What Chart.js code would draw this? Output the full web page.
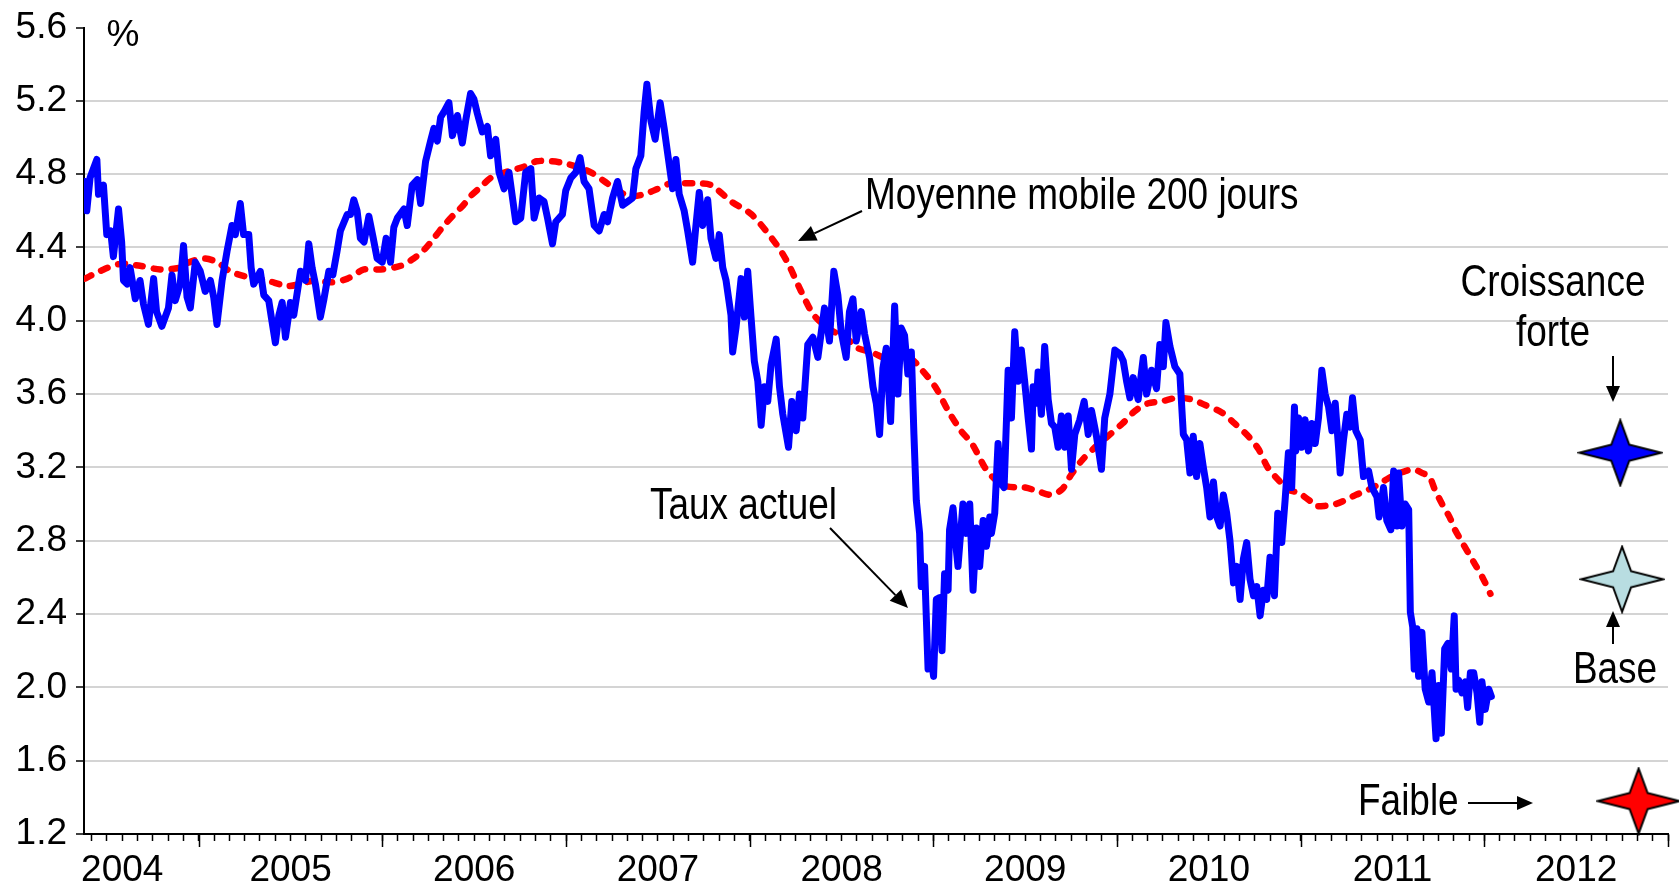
<!DOCTYPE html>
<html>
<head>
<meta charset="utf-8">
<script src="https://cdn.jsdelivr.net/npm/chart.js@4/dist/chart.umd.min.js"></script>
<style>
  html, body { margin: 0; padding: 0; background: #fff; overflow: hidden; }
  canvas { display: block; }
</style>
</head>
<body>
<canvas id="chart" width="1679" height="892"></canvas>
<script>
// Taux actuel (year fraction, %)
const tauxActuel = [
  [2004.381,4.76],[2004.39,4.60],[2004.408,4.78],[2004.445,4.88],[2004.454,4.69],[2004.481,4.74],[2004.499,4.47],[2004.52,4.49],
  [2004.535,4.35],[2004.563,4.61],[2004.58,4.43],[2004.59,4.22],[2004.61,4.20],[2004.626,4.29],[2004.654,4.12],[2004.68,4.22],
  [2004.699,4.09],[2004.726,3.98],[2004.754,4.23],[2004.77,4.05],[2004.799,3.97],[2004.835,4.07],[2004.854,4.25],[2004.872,4.11],
  [2004.899,4.20],[2004.917,4.41],[2004.936,4.13],[2004.954,4.07],[2004.981,4.32],[2005.008,4.27],[2005.035,4.16],[2005.063,4.22],
  [2005.081,4.13],[2005.099,3.98],[2005.127,4.22],[2005.154,4.38],[2005.181,4.52],[2005.199,4.47],[2005.226,4.64],[2005.244,4.47],
  [2005.272,4.47],[2005.285,4.29],[2005.299,4.20],[2005.335,4.27],[2005.354,4.14],[2005.381,4.11],[2005.395,4.02],[2005.417,3.88],
  [2005.436,4.03],[2005.454,4.10],[2005.472,3.91],[2005.499,4.10],[2005.517,4.03],[2005.554,4.27],[2005.581,4.22],[2005.599,4.42],
  [2005.617,4.29],[2005.635,4.20],[2005.662,4.02],[2005.68,4.11],[2005.708,4.27],[2005.73,4.25],[2005.753,4.38],[2005.771,4.49],
  [2005.808,4.58],[2005.826,4.58],[2005.844,4.66],[2005.862,4.60],[2005.88,4.45],[2005.90,4.43],[2005.926,4.57],[2005.95,4.45],
  [2005.971,4.34],[2005.999,4.32],[2006.02,4.45],[2006.044,4.32],[2006.062,4.51],[2006.081,4.56],[2006.117,4.61],[2006.135,4.52],
  [2006.162,4.74],[2006.19,4.77],[2006.208,4.64],[2006.235,4.87],[2006.262,4.98],[2006.28,5.05],[2006.299,4.98],[2006.317,5.11],
  [2006.335,5.14],[2006.362,5.19],[2006.381,5.01],[2006.408,5.12],[2006.435,4.97],[2006.453,5.09],[2006.48,5.24],[2006.498,5.21],
  [2006.517,5.13],[2006.544,5.03],[2006.571,5.06],[2006.589,4.90],[2006.617,4.99],[2006.635,4.81],[2006.662,4.72],[2006.689,4.81],
  [2006.726,4.54],[2006.753,4.56],[2006.78,4.81],[2006.808,4.83],[2006.826,4.56],[2006.853,4.67],[2006.88,4.65],[2006.899,4.56],
  [2006.926,4.42],[2006.944,4.54],[2006.98,4.58],[2006.998,4.71],[2007.026,4.78],[2007.053,4.81],[2007.076,4.89],[2007.098,4.76],
  [2007.125,4.72],[2007.153,4.52],[2007.18,4.49],[2007.207,4.58],[2007.226,4.54],[2007.253,4.67],[2007.28,4.76],[2007.308,4.63],
  [2007.335,4.65],[2007.362,4.67],[2007.38,4.83],[2007.407,4.90],[2007.425,5.14],[2007.44,5.29],[2007.462,5.09],[2007.485,4.99],
  [2007.512,5.19],[2007.534,5.05],[2007.552,4.92],[2007.58,4.72],[2007.598,4.88],[2007.616,4.69],[2007.643,4.60],[2007.662,4.49],
  [2007.689,4.32],[2007.707,4.52],[2007.725,4.70],[2007.744,4.52],[2007.771,4.66],[2007.789,4.45],[2007.816,4.34],[2007.834,4.47],
  [2007.853,4.29],[2007.871,4.22],[2007.898,4.03],[2007.907,3.83],[2007.925,3.96],[2007.953,4.23],[2007.971,4.02],[2007.989,4.27],
  [2008.007,4.02],[2008.025,3.78],[2008.044,3.67],[2008.062,3.43],[2008.08,3.64],[2008.098,3.56],[2008.116,3.76],[2008.144,3.90],
  [2008.162,3.64],[2008.18,3.49],[2008.211,3.31],[2008.229,3.56],[2008.253,3.40],[2008.271,3.60],[2008.289,3.47],[2008.316,3.87],
  [2008.344,3.91],[2008.371,3.80],[2008.407,4.07],[2008.434,3.89],[2008.458,4.27],[2008.48,4.14],[2008.498,3.94],[2008.525,3.80],
  [2008.543,4.05],[2008.562,4.12],[2008.58,3.89],[2008.607,4.05],[2008.625,3.93],[2008.652,3.80],[2008.671,3.64],[2008.689,3.55],
  [2008.707,3.38],[2008.725,3.74],[2008.743,3.85],[2008.767,3.45],[2008.789,4.08],[2008.807,3.60],[2008.825,3.96],[2008.843,3.92],
  [2008.861,3.71],[2008.88,3.83],[2008.894,3.38],[2008.907,3.02],[2008.925,2.84],[2008.934,2.55],[2008.952,2.66],[2008.971,2.10],
  [2008.989,2.15],[2009.001,2.06],[2009.016,2.48],[2009.034,2.49],[2009.047,2.20],[2009.061,2.62],[2009.08,2.53],[2009.088,2.86],
  [2009.107,2.98],[2009.125,2.75],[2009.134,2.66],[2009.161,3.00],[2009.179,2.84],[2009.198,3.00],[2009.216,2.53],[2009.234,2.87],
  [2009.252,2.66],[2009.271,2.91],[2009.289,2.77],[2009.307,2.93],[2009.316,2.84],[2009.334,2.95],[2009.352,3.33],[2009.37,3.11],
  [2009.385,3.09],[2009.398,3.46],[2009.407,3.73],[2009.425,3.47],[2009.443,3.94],[2009.461,3.67],[2009.479,3.84],[2009.497,3.67],
  [2009.516,3.47],[2009.534,3.30],[2009.543,3.64],[2009.561,3.55],[2009.57,3.72],[2009.588,3.49],[2009.606,3.86],[2009.625,3.57],
  [2009.643,3.44],[2009.661,3.42],[2009.679,3.31],[2009.697,3.48],[2009.715,3.31],[2009.734,3.48],[2009.752,3.19],[2009.77,3.38],
  [2009.797,3.46],[2009.821,3.56],[2009.843,3.38],[2009.861,3.51],[2009.888,3.37],[2009.915,3.19],[2009.933,3.47],[2009.961,3.60],
  [2009.988,3.84],[2010.015,3.82],[2010.034,3.78],[2010.052,3.67],[2010.07,3.58],[2010.088,3.69],[2010.115,3.57],[2010.143,3.80],
  [2010.161,3.60],[2010.188,3.73],[2010.215,3.63],[2010.233,3.87],[2010.252,3.75],[2010.266,3.99],[2010.288,3.86],[2010.315,3.75],
  [2010.342,3.71],[2010.361,3.38],[2010.379,3.35],[2010.397,3.17],[2010.415,3.37],[2010.433,3.15],[2010.451,3.33],[2010.47,3.20],
  [2010.488,3.09],[2010.506,2.93],[2010.525,3.12],[2010.543,2.93],[2010.561,2.88],[2010.579,3.05],[2010.597,2.95],[2010.615,2.80],
  [2010.634,2.57],[2010.652,2.66],[2010.67,2.48],[2010.688,2.70],[2010.706,2.79],[2010.724,2.59],[2010.743,2.50],[2010.761,2.55],
  [2010.779,2.39],[2010.797,2.53],[2010.815,2.48],[2010.833,2.71],[2010.857,2.50],[2010.875,2.95],[2010.897,2.79],[2010.915,3.02],
  [2010.933,3.28],[2010.951,3.09],[2010.966,3.53],[2010.973,3.29],[2010.988,3.47],[2011.006,3.31],[2011.024,3.46],[2011.042,3.29],
  [2011.061,3.44],[2011.079,3.33],[2011.097,3.47],[2011.115,3.73],[2011.133,3.60],[2011.152,3.53],[2011.17,3.40],[2011.188,3.55],
  [2011.206,3.31],[2011.215,3.17],[2011.233,3.35],[2011.251,3.49],[2011.269,3.42],[2011.282,3.58],[2011.30,3.40],[2011.324,3.35],
  [2011.342,3.15],[2011.37,3.18],[2011.388,3.09],[2011.415,3.04],[2011.427,2.93],[2011.451,3.09],[2011.469,2.91],[2011.491,2.86],
  [2011.506,3.18],[2011.524,2.88],[2011.533,3.17],[2011.551,2.88],[2011.569,3.00],[2011.588,2.97],[2011.597,2.41],[2011.61,2.33],
  [2011.618,2.10],[2011.633,2.32],[2011.642,2.06],[2011.66,2.30],[2011.678,1.99],[2011.697,1.92],[2011.715,2.08],[2011.737,1.72],
  [2011.751,2.01],[2011.766,1.75],[2011.784,2.21],[2011.802,2.24],[2011.82,2.10],[2011.836,2.39],[2011.846,1.99],[2011.86,2.04],
  [2011.878,1.97],[2011.896,2.03],[2011.909,1.89],[2011.924,2.08],[2011.942,2.08],[2011.96,1.97],[2011.975,1.81],[2011.987,2.03],
  [2012.005,1.88],[2012.024,1.99],[2012.038,1.95]
];

// Moyenne mobile 200 jours
const moyenne200 = [
  [2004.381,4.23],[2004.46,4.27],[2004.57,4.31],[2004.68,4.30],[2004.79,4.28],[2004.90,4.29],[2004.95,4.32],[2005.03,4.34],
  [2005.10,4.32],[2005.17,4.27],[2005.26,4.24],[2005.37,4.22],[2005.48,4.19],[2005.55,4.20],[2005.63,4.22],[2005.72,4.21],
  [2005.81,4.23],[2005.90,4.28],[2005.99,4.28],[2006.10,4.30],[2006.17,4.34],[2006.23,4.39],[2006.28,4.45],[2006.335,4.52],
  [2006.39,4.58],[2006.44,4.63],[2006.48,4.68],[2006.535,4.73],[2006.59,4.78],[2006.64,4.80],[2006.70,4.82],[2006.77,4.84],
  [2006.84,4.87],[2006.92,4.87],[2006.99,4.86],[2007.06,4.84],[2007.135,4.81],[2007.21,4.76],[2007.28,4.71],[2007.35,4.68],
  [2007.425,4.69],[2007.50,4.72],[2007.57,4.75],[2007.64,4.75],[2007.72,4.75],[2007.79,4.74],[2007.90,4.65],[2008.01,4.58],
  [2008.15,4.41],[2008.21,4.31],[2008.28,4.16],[2008.35,4.03],[2008.44,3.95],[2008.52,3.91],[2008.59,3.85],[2008.66,3.83],
  [2008.75,3.79],[2008.825,3.78],[2008.88,3.79],[2008.93,3.74],[2009.01,3.64],[2009.08,3.51],[2009.15,3.40],[2009.21,3.33],
  [2009.28,3.20],[2009.33,3.14],[2009.39,3.10],[2009.46,3.09],[2009.50,3.09],[2009.57,3.07],[2009.64,3.05],[2009.70,3.08],
  [2009.75,3.16],[2009.81,3.24],[2009.88,3.31],[2009.95,3.37],[2010.03,3.44],[2010.10,3.51],[2010.17,3.55],[2010.24,3.56],
  [2010.33,3.58],[2010.41,3.57],[2010.48,3.54],[2010.57,3.50],[2010.64,3.44],[2010.715,3.37],[2010.77,3.30],[2010.82,3.20],
  [2010.88,3.13],[2010.93,3.08],[2010.99,3.06],[2011.06,3.01],[2011.08,2.99],[2011.13,2.99],[2011.19,3.00],[2011.24,3.02],
  [2011.30,3.05],[2011.35,3.07],[2011.41,3.10],[2011.46,3.13],[2011.515,3.16],[2011.57,3.18],[2011.615,3.19],[2011.66,3.17],
  [2011.70,3.15],[2011.73,3.08],[2011.77,3.00],[2011.81,2.93],[2011.84,2.86],[2011.88,2.79],[2011.915,2.73],[2011.95,2.67],
  [2011.99,2.60],[2012.033,2.51]
];

// Scénarios (étoiles)
const scenarioYears = [2012.74, 2012.75, 2012.84];
const scenarioValues = [3.28, 2.59, 1.38];
const scenarioColors = ['#0000ff', '#b8dde1', '#ff0000'];

// Axes
const yearLabels = ['2004', '2005', '2006', '2007', '2008', '2009', '2010', '2011', '2012'];
const xMin = 2004.375, xMax = 2013;
const yMin = 1.2, yMax = 5.6, yStep = 0.4;

const tickFont = { family: '"Liberation Sans", Arial, sans-serif', size: 37, lineHeight: 1 };
const noteFont = '44px "Liberation Sans", Arial, sans-serif';
const noteSqueeze = 0.84; // condensed look (Arial Narrow)

// month ticks on x axis
const monthTicks = [];
for (let m = 0; m <= 9 * 12; m++) {
    const v = 2004 + m / 12;
    if (v >= xMin - 1e-9 && v <= xMax + 1e-9) monthTicks.push(v);
}

function xLabel(v) {
    const m = Math.round((v - 2004) * 12);
    const yr = 2004 + Math.floor(m / 12);
    const idx = yr - 2004;
    if (idx === 0) return m === 7 ? yearLabels[0] : '';
    return (m % 12 === 6 && idx < yearLabels.length) ? yearLabels[idx] : '';
}

function makeStar(fill) {
    const w = 86, h = 69;
    const c = document.createElement('canvas');
    c.width = w; c.height = h;
    const g = c.getContext('2d');
    const cx = w / 2, cy = h / 2, rx = 41, ry = 32.5, ix = 9, iy = 8;
    g.beginPath();
    g.moveTo(cx + rx, cy);
    g.lineTo(cx + ix, cy + iy);
    g.lineTo(cx, cy + ry);
    g.lineTo(cx - ix, cy + iy);
    g.lineTo(cx - rx, cy);
    g.lineTo(cx - ix, cy - iy);
    g.lineTo(cx, cy - ry);
    g.lineTo(cx + ix, cy - iy);
    g.closePath();
    g.fillStyle = fill;
    g.fill();
    g.lineWidth = 2;
    g.strokeStyle = '#000';
    g.stroke();
    return c;
}

function arrow(ctx, x1, y1, x2, y2, head, half) {
    const a = Math.atan2(y2 - y1, x2 - x1);
    const bx = x2 - Math.cos(a) * head, by = y2 - Math.sin(a) * head;
    ctx.beginPath();
    ctx.moveTo(x1, y1);
    ctx.lineTo(bx, by);
    ctx.stroke();
    ctx.beginPath();
    ctx.moveTo(x2, y2);
    ctx.lineTo(bx + Math.sin(a) * half, by - Math.cos(a) * half);
    ctx.lineTo(bx - Math.sin(a) * half, by + Math.cos(a) * half);
    ctx.closePath();
    ctx.fill();
}

// narrow text: squeeze horizontally around anchor
function note(ctx, text, x, y, align) {
    ctx.save();
    ctx.translate(x, y);
    ctx.scale(noteSqueeze, 1);
    ctx.textAlign = align;
    ctx.fillText(text, 0, 0);
    ctx.restore();
}

// long year ticks + text notes
const notesPlugin = {
    id: 'notes',
    afterDraw(chart) {
        const ctx = chart.ctx;
        const xs = chart.scales.x;
        const bottom = chart.chartArea.bottom;
        ctx.save();
        ctx.strokeStyle = '#000';
        ctx.lineWidth = 1.5;
        for (let yr = 2005; yr <= 2013; yr++) {
            const px = Math.round(xs.getPixelForValue(yr)) + 0.5;
            ctx.beginPath();
            ctx.moveTo(px, bottom);
            ctx.lineTo(px, bottom + 13);
            ctx.stroke();
        }

        ctx.fillStyle = '#000';
        ctx.font = '37px "Liberation Sans", Arial, sans-serif';
        ctx.textAlign = 'center';
        ctx.textBaseline = 'middle';
        ctx.fillText('%', 123, 36);

        ctx.font = noteFont;
        ctx.textBaseline = 'alphabetic';
        note(ctx, 'Moyenne mobile 200 jours', 865, 209, 'left');
        note(ctx, 'Taux actuel', 650, 519, 'left');
        note(ctx, 'Faible', 1358, 815, 'left');
        note(ctx, 'Croissance', 1553, 296, 'center');
        note(ctx, 'forte', 1553, 346, 'center');
        note(ctx, 'Base', 1615, 683, 'center');

        ctx.lineWidth = 2;
        arrow(ctx, 862, 211, 798, 241, 18, 8);
        arrow(ctx, 830, 528, 908, 608, 18, 8);
        arrow(ctx, 1613, 356, 1613, 402, 16, 7);
        arrow(ctx, 1613, 644, 1613, 611, 16, 7);
        arrow(ctx, 1468, 803, 1533, 803, 16, 7);
        ctx.restore();
    }
};

new Chart(document.getElementById('chart'), {
    type: 'line',
    data: {
        datasets: [
            {
                label: 'Moyenne mobile 200 jours',
                data: moyenne200.map(p => ({ x: p[0], y: p[1] })),
                borderColor: '#ff0000',
                borderWidth: 6.5,
                borderDash: [7, 11],
                borderCapStyle: 'round',
                pointRadius: 0,
                tension: 0.3,
                order: 2
            },
            {
                label: 'Taux actuel',
                data: tauxActuel.map(p => ({ x: p[0], y: p[1] })),
                borderColor: '#0000ff',
                borderWidth: 7,
                borderJoinStyle: 'round',
                borderCapStyle: 'round',
                pointRadius: 0,
                tension: 0,
                order: 1
            },
            {
                type: 'scatter',
                label: 'Scénarios',
                data: scenarioYears.map((x, i) => ({ x: x, y: scenarioValues[i] })),
                pointStyle: scenarioColors.map(makeStar),
                showLine: false,
                clip: false,
                order: 0
            }
        ]
    },
    options: {
        responsive: false,
        devicePixelRatio: 1,
        animation: false,
        events: [],
        layout: { padding: { top: 24, right: 9, left: 0, bottom: 0 } },
        plugins: { legend: { display: false }, tooltip: { enabled: false } },
        scales: {
            x: {
                type: 'linear',
                min: xMin,
                max: xMax,
                afterBuildTicks: s => { s.ticks = monthTicks.map(v => ({ value: v })); },
                afterFit: s => { s.height = 58; },
                ticks: {
                    autoSkip: false,
                    maxRotation: 0,
                    minRotation: 0,
                    padding: 11,
                    color: '#000',
                    font: tickFont,
                    callback: v => xLabel(v)
                },
                grid: { drawOnChartArea: false, drawTicks: true, tickLength: 7, tickColor: '#000', tickWidth: 1.5 },
                border: { color: '#000', width: 2 }
            },
            y: {
                min: yMin,
                max: yMax,
                afterFit: s => { s.width = 84; },
                ticks: {
                    stepSize: yStep,
                    padding: 9,
                    color: '#000',
                    font: tickFont,
                    callback: v => v.toFixed(1)
                },
                grid: {
                    color: c => (Math.abs(c.tick.value - yMax) < 1e-6 || Math.abs(c.tick.value - yMin) < 1e-6) ? 'rgba(0,0,0,0)' : '#d4d4d4',
                    lineWidth: 2,
                    tickLength: 8,
                    tickColor: '#000',
                    tickWidth: 1.5
                },
                border: { color: '#000', width: 2 }
            }
        }
    },
    plugins: [notesPlugin]
});
</script>
</body>
</html>
